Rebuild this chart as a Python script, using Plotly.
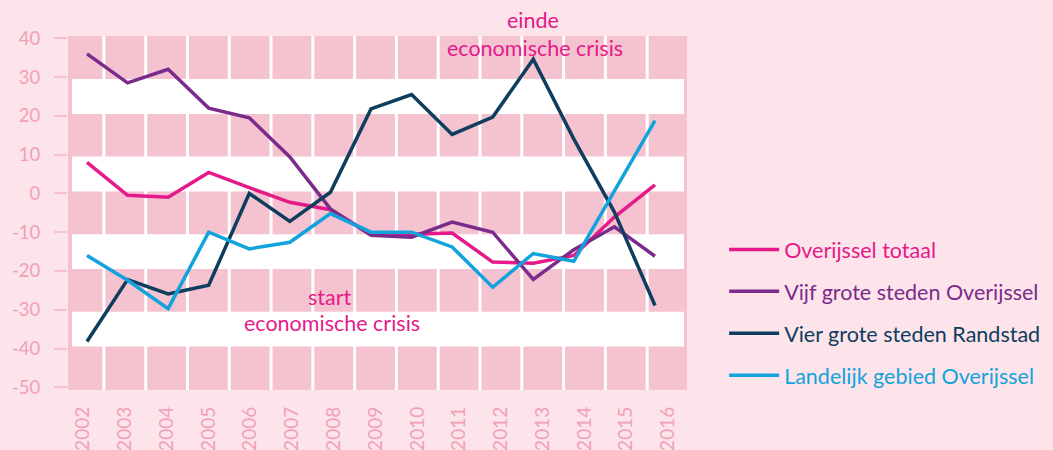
import plotly.graph_objects as go

# ---- data ----
years = list(range(2002, 2017))
year_labels = [str(y) for y in years]
overijssel_totaal = [8, -0.5, -1, 5.4, 1.5, -2.3, -4.2, -10.5, -10.5, -10.2, -17.7, -18, -16, -6.1, 2.2]
vijf_grote_steden_overijssel = [36, 28.5, 32, 22, 19.5, 9.4, -4, -10.8, -11.3, -7.4, -10, -22.2, -14.5, -8.6, -16.2]
vier_grote_steden_randstad = [-38.2, -22.2, -25.9, -23.7, 0, -7.2, 0.3, 21.8, 25.5, 15.2, 19.7, 34.6, 14, -4.8, -28.9]
landelijk_gebied_overijssel = [-16, -22.4, -29.7, -10, -14.3, -12.6, -5.2, -10, -10, -13.8, -24.2, -15.5, -17.5, 0.5, 18.8]
y_ticks = list(range(-50, 41, 10))
y_tick_labels = [str(v) for v in y_ticks]
white_band_lows = [20, 0, -20, -40]

series = [
    ("Overijssel totaal", overijssel_totaal, "#e5198a"),
    ("Vijf grote steden Overijssel", vijf_grote_steden_overijssel, "#7b2b8c"),
    ("Vier grote steden Randstad", vier_grote_steden_randstad, "#0e3d5e"),
    ("Landelijk gebied Overijssel", landelijk_gebied_overijssel, "#12a3dc"),
]

FONT = "Lato"
BG = "#fde3ea"
PINK = "#f4c3cf"
TICK_TXT = "#f0a1b9"
MAGENTA = "#e5198a"

fig = go.Figure()
for i, (name, vals, col) in enumerate(series):
    fig.add_trace(go.Scatter(
        x=years, y=vals, mode="lines",
        name=f'<span style="color:{col}">{name}</span>',
        legendgroup=f"g{i}",
        line=dict(color=col, width=3.5),
        xaxis="x", yaxis="y",
    ))

# invisible trace so that xaxis2 (year labels / columns) is rendered
fig.add_trace(go.Scatter(x=years, y=[None] * len(years), xaxis="x2", yaxis="y",
                         showlegend=False, hoverinfo="skip"))

L, R, T, B = 68, 366, 36, 60
W, H = 1053, 450
plot_w = W - L - R
plot_h = H - T - B

shapes = []
for lo in white_band_lows:
    shapes.append(dict(type="rect", xref="paper", yref="y",
                       x0=4 / plot_w, x1=(plot_w - 3) / plot_w,
                       y0=lo + 0.5, y1=lo + 9.5,
                       fillcolor="white", line=dict(width=0), layer="below"))
for y in years[:-1]:
    shapes.append(dict(type="line", xref="x2", yref="paper",
                       x0=y + 0.5, x1=y + 0.5, y0=0, y1=1,
                       line=dict(color="white", width=3), layer="below"))

ann_font = dict(family=FONT, size=21.5, color=MAGENTA)
annotations = [
    dict(text="einde", x=2013, y=(plot_h + T - 20) / plot_h, xref="x", yref="paper",
         xanchor="center", yanchor="middle", showarrow=False, font=ann_font),
    dict(text="economische crisis", x=2013.05, y=(plot_h + T - 48) / plot_h, xref="x",
         yref="paper", xanchor="center", yanchor="middle", showarrow=False, font=ann_font),
    dict(text="start", x=2008, y=-26.8, xref="x", yref="y", xanchor="center",
         yanchor="middle", showarrow=False, font=ann_font),
    dict(text="economische crisis", x=2008.05, y=-33.5, xref="x", yref="y",
         xanchor="center", yanchor="middle", showarrow=False, font=ann_font),
]

fig.update_layout(
    width=W, height=H,
    margin=dict(l=L, r=R, t=T, b=B, pad=0, autoexpand=False),
    paper_bgcolor=BG, plot_bgcolor=PINK,
    font=dict(family=FONT),
    showlegend=True,
    legend=dict(x=1.06, y=0.455, xanchor="left", yanchor="top",
                bgcolor="rgba(0,0,0,0)", font=dict(family=FONT, size=21.5),
                tracegroupgap=11, itemwidth=50),
    xaxis=dict(range=[2001.532, 2016.789], showticklabels=False, showgrid=False,
               zeroline=False, showline=False, ticks="", fixedrange=True,
               automargin=False),
    xaxis2=dict(overlaying="x", anchor="y", side="bottom",
                range=[2001.641, 2016.453], tickmode="array",
                tickvals=years, ticktext=year_labels, tickangle=-90,
                tickfont=dict(family=FONT, size=19, color=TICK_TXT),
                showgrid=False, zeroline=False, showline=False, ticks="",
                ticklabelstandoff=12, fixedrange=True, automargin=False),
    yaxis=dict(range=[-50.7, 40.6], tickmode="array", tickvals=y_ticks,
               ticktext=y_tick_labels, ticks="outside", ticklen=13, tickwidth=2,
               tickcolor=PINK, tickfont=dict(family=FONT, size=18.5, color=TICK_TXT),
               showgrid=False, zeroline=False, showline=False,
               ticklabelstandoff=10, fixedrange=True, automargin=False),
    shapes=shapes,
    annotations=annotations,
)

fig.write_html(
    "out.html",
    config={"displayModeBar": False},
    post_script="document.body.style.margin='0';document.body.style.padding='0';"
                "document.documentElement.style.background='" + BG + "';",
)
